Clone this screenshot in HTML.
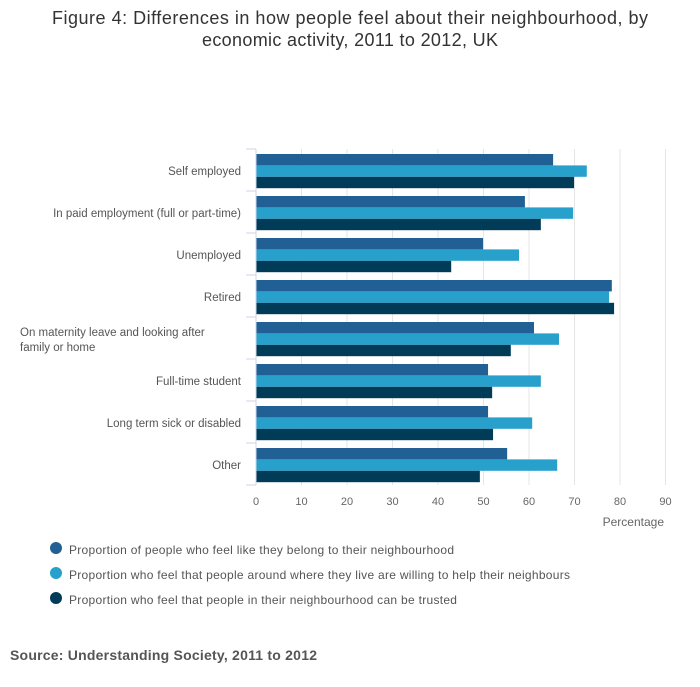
<!DOCTYPE html>
<html><head><meta charset="utf-8"><style>
body{margin:0;background:#fff;font-family:"Liberation Sans","DejaVu Sans",sans-serif}
</style></head><body>
<svg width="700" height="682" xmlns="http://www.w3.org/2000/svg">
<text x="52" y="24" textLength="596" font-size="18" fill="#333">Figure 4: Differences in how people feel about their neighbourhood, by</text>
<text x="202" y="46" textLength="296" font-size="18" fill="#333">economic activity, 2011 to 2012, UK</text>
<g id="plot"></g>
<text x="664" y="526" text-anchor="end" font-size="12" fill="#666">Percentage</text>
<g font-size="12" fill="#555">
<circle cx="56" cy="548" r="6" fill="#206095"/>
<text x="69" y="554" textLength="385">Proportion of people who feel like they belong to their neighbourhood</text>
<circle cx="56" cy="573" r="6" fill="#27a0cc"/>
<text x="69" y="579" textLength="501">Proportion who feel that people around where they live are willing to help their neighbours</text>
<circle cx="56" cy="598" r="6" fill="#003c57"/>
<text x="69" y="604" textLength="388">Proportion who feel that people in their neighbourhood can be trusted</text>
</g>
<text x="10" y="660" textLength="307" font-size="14" font-weight="bold" fill="#555">Source: Understanding Society, 2011 to 2012</text>
</svg>
<script>
const categories=[["Self employed"],["In paid employment (full or part-time)"],["Unemployed"],["Retired"],["On maternity leave and looking after","family or home"],["Full-time student"],["Long term sick or disabled"],["Other"]];
const belong=[65.3,59.1,49.9,78.2,61.1,51,51,55.2];
const help=[72.7,69.7,57.8,77.6,66.6,62.6,60.7,66.2];
const trust=[69.9,62.6,42.9,78.7,56.0,51.9,52.1,49.2];
const ticks=[0,10,20,30,40,50,60,70,80,90];
const NS="http://www.w3.org/2000/svg",g=document.getElementById('plot');
const x0=256,pxPer=4.55,plotTop=149,band=42;
const X=v=>x0+v*pxPer,Y=i=>plotTop+i*band;
function mk(t,a){const e=document.createElementNS(NS,t);for(const k in a)e.setAttribute(k,a[k]);g.appendChild(e);return e;}
ticks.forEach(t=>{
 if(t>0){const l=mk('line',{x1:X(t),x2:X(t),y1:plotTop,y2:plotTop+8*band,stroke:'#e5e5e5'});
 
 }
 const tx=mk('text',{x:X(t),y:505,'text-anchor':'middle','font-size':11,fill:'#666'});tx.textContent=t;
 
 
});
const series=[[belong,'#206095','belong'],[help,'#27a0cc','help'],[trust,'#003c57','trust']];
categories.forEach((c,i)=>{
 series.forEach((s,j)=>{
  const r=mk('rect',{x:x0,y:Y(i)+5+j*11.4,width:X(s[0][i])-x0,height:11.4,fill:s[1]});
  
  
 });
 const cy=Y(i)+band/2+5;
 if(c.length==1){const t=mk('text',{x:241,y:cy,'text-anchor':'end','font-size':11.5,fill:'#555'});t.textContent=c[0];
  
  }
 else{c.forEach((ln,k)=>{const t=mk('text',{x:20,y:cy-7+k*15,'font-size':11.5,fill:'#555'});t.textContent=ln;
  
  });}
});
for(let i=0;i<=8;i++){const l=mk('line',{x1:x0-10,x2:x0,y1:Y(i),y2:Y(i),stroke:'#ccd6e6'});
 
 }
const ax=mk('line',{x1:x0,x2:x0,y1:plotTop,y2:plotTop+8*band,stroke:'#ccd6e6'});


</script>
</body></html>
